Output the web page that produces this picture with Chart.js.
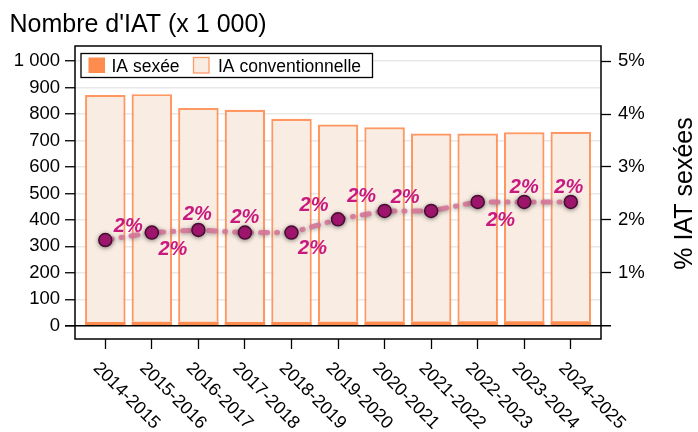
<!DOCTYPE html>
<html>
<head>
<meta charset="utf-8">
<script src="https://cdn.jsdelivr.net/npm/chart.js@4"></script>
<style>
html, body { margin: 0; padding: 0; background: #fff; }
#wrap { width: 698px; height: 432px; position: relative; }
</style>
</head>
<body>
<div id="wrap"><canvas id="iat-chart"></canvas></div>
<script>
var seasons = ['2014-2015', '2015-2016', '2016-2017', '2017-2018', '2018-2019', '2019-2020',
               '2020-2021', '2021-2022', '2022-2023', '2023-2024', '2024-2025'];
// milliers d'IAT
var iaSexee = [14, 15, 15, 14, 14, 15, 16, 16, 17, 17, 17];
var iaConv = [858, 860, 808, 802, 768, 745, 734, 710, 709, 714, 716];
// % IAT sexées
var pctSexee = [1.62, 1.76, 1.81, 1.76, 1.76, 2.01, 2.17, 2.17, 2.34, 2.34, 2.34];
var leftTicks = [0, 100, 200, 300, 400, 500, 600, 700, 800, 900, 1000];
var rightTicks = [1, 2, 3, 4, 5];

// decalage (px) des etiquettes "2%" par rapport aux points
var labelOffsets = [[23, -15], [21, 16], [-1, -16], [0, -16], [21, 15], [-24, -15],
                    [-23, -15], [-26, -14], [23, 18], [0, -15], [-2, -15]];

var FONT = '"Liberation Sans", Arial, sans-serif';
Chart.defaults.font.family = FONT;
Chart.defaults.color = '#000';

function milliers(v) {
    return String(v).replace(/\B(?=(\d{3})+(?!\d))/g, ' ');
}

var decor = {
    id: 'decor',
    beforeDatasetDraw: function(chart, args) {
        if (args.meta.type !== 'line') return;
        var ctx = chart.ctx;
        ctx.save();
        ctx.shadowColor = 'rgba(70,70,70,0.55)';
        ctx.shadowBlur = 4;
        ctx.shadowOffsetY = 1;
    },
    afterDatasetDraw: function(chart, args) {
        if (args.meta.type !== 'line') return;
        chart.ctx.restore();
    },
    afterDraw: function(chart) {
        var ctx = chart.ctx, ca = chart.chartArea;
        var xs = chart.scales.x, ys = chart.scales.y;
        ctx.save();

        // cadre
        ctx.strokeStyle = '#000';
        ctx.lineWidth = 1.5;
        ctx.strokeRect(ca.left, ca.top, ca.right - ca.left, ca.bottom - ca.top);

        // ligne du zero
        var y0 = ys.getPixelForValue(0);
        ctx.beginPath();
        ctx.moveTo(ca.left - 10, y0);
        ctx.lineTo(ca.right + 10, y0);
        ctx.stroke();

        // etiquettes de l'axe x, inclinees
        ctx.fillStyle = '#000';
        ctx.font = '18px ' + FONT;
        ctx.textAlign = 'left';
        ctx.textBaseline = 'top';
        seasons.forEach(function(s, i) {
            var x = xs.getPixelForValue(i);
            ctx.save();
            ctx.translate(x - 3, ca.bottom + 20);
            ctx.rotate(Math.PI / 4);
            ctx.fillText(s, 0, 0);
            ctx.restore();
        });

        // titres
        ctx.font = '25px ' + FONT;
        ctx.textBaseline = 'alphabetic';
        ctx.fillText("Nombre d'IAT (x 1 000)", 9.5, 31.5);
        ctx.save();
        ctx.translate(692, 193.5);
        ctx.rotate(-Math.PI / 2);
        ctx.textAlign = 'center';
        ctx.fillText('% IAT sexées', 0, 0);
        ctx.restore();

        // legende
        ctx.fillStyle = '#fff';
        ctx.fillRect(81, 53.5, 291.5, 24);
        ctx.lineWidth = 1.3;
        ctx.strokeStyle = '#000';
        ctx.strokeRect(81, 53.5, 291.5, 24);
        ctx.fillStyle = '#ff8c4f';
        ctx.fillRect(88.5, 57.5, 16.5, 15.5);
        ctx.fillStyle = '#f9ede3';
        ctx.fillRect(193.5, 57.5, 15.5, 15.5);
        ctx.strokeStyle = '#ff9a66';
        ctx.strokeRect(193.5, 57.5, 15.5, 15.5);
        ctx.fillStyle = '#000';
        ctx.font = '17.5px ' + FONT;
        ctx.textAlign = 'left';
        ctx.fillText('IA sexée', 111.5, 71.5);
        ctx.fillText('IA conventionnelle', 218, 71.5);

        // etiquettes des points
        var meta = chart.getDatasetMeta(0);
        ctx.fillStyle = '#c8197f';
        ctx.font = 'italic bold 20px ' + FONT;
        ctx.textAlign = 'center';
        ctx.textBaseline = 'middle';
        meta.data.forEach(function(pt, i) {
            var off = labelOffsets[i];
            ctx.fillText(Math.round(pctSexee[i]) + '%', pt.x + off[0], pt.y + off[1] + 1);
        });

        ctx.restore();
    }
};

new Chart(document.getElementById('iat-chart'), {
    type: 'bar',
    data: {
        datasets: [{
            type: 'line',
            label: '% IAT sexées',
            yAxisID: 'y2',
            order: 0,
            data: pctSexee.map(function(v, i) { return { x: i, y: v }; }),
            borderColor: 'rgba(214,118,152,0.9)',
            borderWidth: 5,
            borderDash: [7, 9, 1, 9],
            borderCapStyle: 'round',
            pointRadius: 6.5,
            pointBackgroundColor: '#a5126f',
            pointBorderColor: '#4a0a33',
            pointBorderWidth: 1.5,
            tension: 0
        }, {
            label: 'IA sexée',
            yAxisID: 'y',
            order: 1,
            data: iaSexee.map(function(v, i) { return { x: i, y: v }; }),
            backgroundColor: '#ff8c4f',
            borderWidth: 0,
            barPercentage: 0.87,
            categoryPercentage: 1
        }, {
            label: 'IA conventionnelle',
            yAxisID: 'y',
            order: 1,
            data: iaConv.map(function(v, i) { return { x: i, y: v }; }),
            backgroundColor: '#f9ede3',
            borderColor: 'rgba(255,140,82,0.9)',
            borderWidth: 2.2,
            barPercentage: 0.87,
            categoryPercentage: 1
        }]
    },
    options: {
        responsive: true,
        maintainAspectRatio: false,
        animation: false,
        events: [],
        layout: { padding: { top: 46, left: 0, right: 0, bottom: 0 } },
        plugins: { legend: { display: false }, tooltip: { enabled: false } },
        scales: {
            x: {
                type: 'linear',
                stacked: true,
                offset: false,
                min: -0.651,
                max: 10.649,
                afterBuildTicks: function(s) { s.ticks = seasons.map(function(c, i) { return { value: i }; }); },
                afterFit: function(s) { s.height = 93; },
                ticks: { display: false },
                border: { display: false },
                grid: { offset: false, drawOnChartArea: false, drawTicks: true, tickLength: 10, tickColor: '#000', tickWidth: 1.3 }
            },
            y: {
                position: 'left',
                stacked: true,
                min: -50,
                max: 1057,
                afterBuildTicks: function(s) { s.ticks = leftTicks.map(function(v) { return { value: v }; }); },
                afterFit: function(s) { s.width = 75; },
                ticks: { padding: 5, font: { size: 18.5 }, callback: function(v) { return milliers(v); } },
                border: { display: false },
                grid: { color: '#e8e8e8', lineWidth: 1.5, tickLength: 10, tickColor: '#000', tickWidth: 1.3 }
            },
            y2: {
                position: 'right',
                min: -0.25,
                max: 5.285,
                afterBuildTicks: function(s) { s.ticks = rightTicks.map(function(v) { return { value: v }; }); },
                afterFit: function(s) { s.width = 97; },
                ticks: { padding: 7, font: { size: 18.5 }, callback: function(v) { return v + '%'; } },
                border: { display: false },
                grid: { drawOnChartArea: false, tickLength: 10, tickColor: '#000', tickWidth: 1.3 }
            }
        }
    },
    plugins: [decor]
});
</script>
</body>
</html>
